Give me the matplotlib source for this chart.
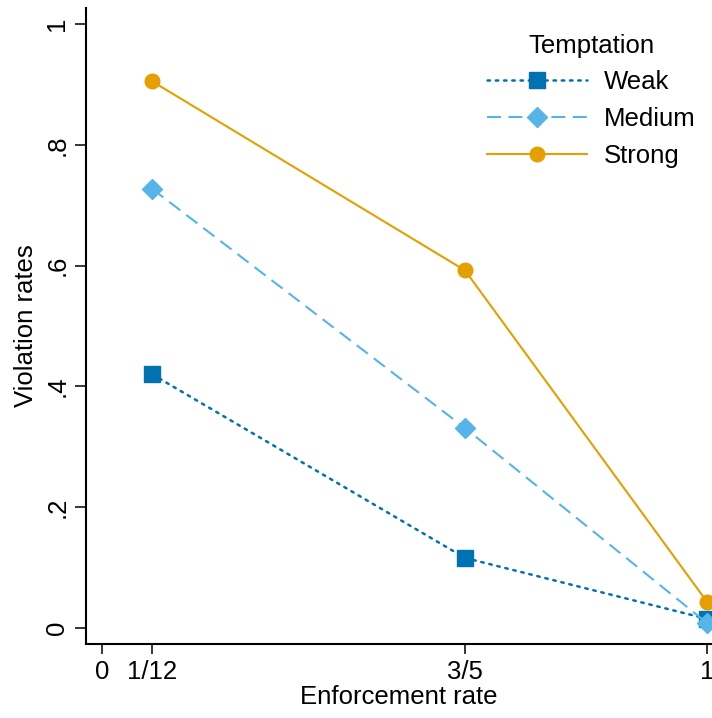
import matplotlib.pyplot as plt

plt.rcParams['font.family'] = ['Liberation Sans', 'DejaVu Sans']

# enforcement rates and violation rates by temptation level
enforcement = [1 / 12, 3 / 5, 1]
weak = [0.420, 0.116, 0.015]
medium = [0.727, 0.331, 0.008]
strong = [0.905, 0.592, 0.043]

xtick_pos = [0, 1 / 12, 3 / 5, 1]
xtick_labels = ['0', '1/12', '3/5', '1']
ytick_pos = [0, 0.2, 0.4, 0.6, 0.8, 1.0]
ytick_labels = ['0', '.2', '.4', '.6', '.8', '1']

fs = 18.5

fig = plt.figure(figsize=(7.12, 7.18), dpi=100)
ax = fig.add_axes([0.1208, 0.1031, 0.8792, 0.8858])

ax.plot(enforcement, weak, color='#0072B2', linestyle=(0, (1, 2.3)), linewidth=1.8,
        dash_capstyle='round', marker='s', markersize=11, label='Weak', clip_on=False)
ax.plot(enforcement, medium, color='#56B4E9', linestyle=(0, (6.7, 3.6)), linewidth=1.5,
        marker='D', markersize=10.5, label='Medium', clip_on=False)
ax.plot(enforcement, strong, color='#E69F00', linestyle='-', linewidth=1.5,
        marker='o', markersize=10.5, label='Strong', clip_on=False)

ax.set_xlim(-0.026, 1.008)
ax.set_ylim(-0.0265, 1.0265)
ax.set_xticks(xtick_pos)
ax.set_xticklabels(xtick_labels)
ax.set_yticks(ytick_pos)
ax.set_yticklabels(ytick_labels, rotation=90, va='center')

ax.spines['top'].set_visible(False)
ax.spines['right'].set_visible(False)
for s in ['left', 'bottom']:
    ax.spines[s].set_linewidth(1.5)
ax.tick_params(axis='both', labelsize=fs, width=1.1, pad=4)
ax.tick_params(axis='x', length=7.2)
ax.tick_params(axis='y', length=8)

ax.set_xlabel('Enforcement rate', fontsize=fs, labelpad=1)
ax.set_ylabel('Violation rates', fontsize=fs, labelpad=5)

leg = ax.legend(title='Temptation', loc='upper left', frameon=False,
                fontsize=fs, title_fontsize=fs, handlelength=3.9,
                handletextpad=0.62, labelspacing=0.5, borderaxespad=0,
                bbox_to_anchor=(0.6246, 0.976))

fig.savefig('out.png', dpi=100)
